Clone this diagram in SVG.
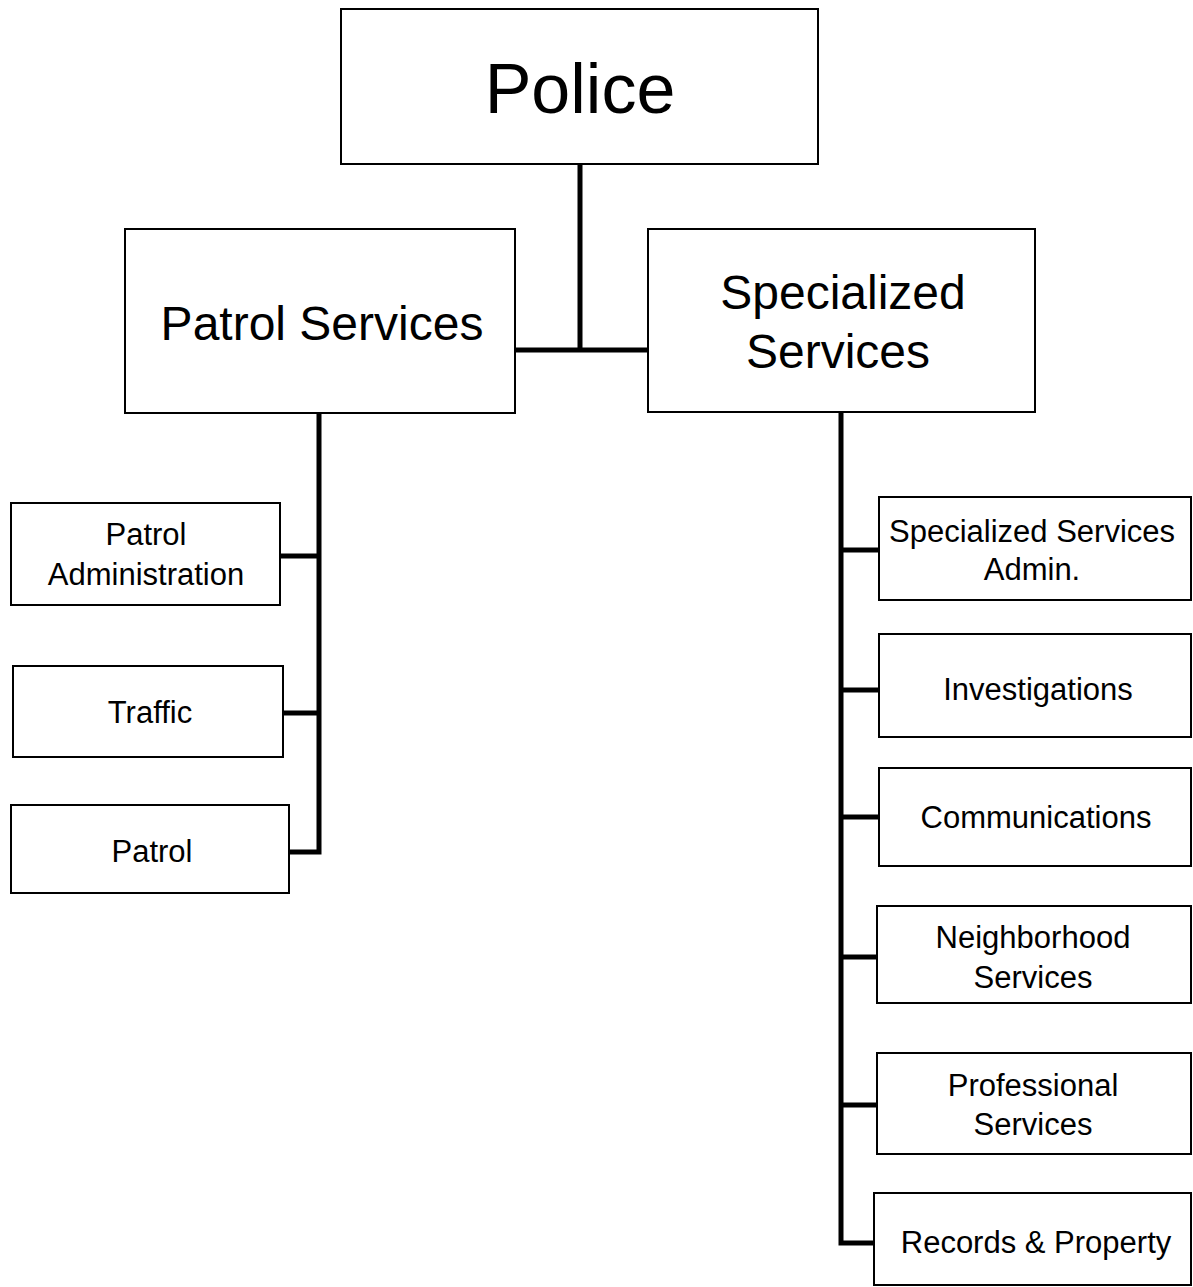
<svg xmlns="http://www.w3.org/2000/svg" width="1193" height="1287" viewBox="0 0 1193 1287">
<style>
.box{fill:#fff;stroke:#000;stroke-width:2}
.conn{fill:none;stroke:#000;stroke-width:5}
text{font-family:"Liberation Sans",Arial,sans-serif;fill:#000;text-anchor:middle}
.big{font-size:70px}
.mid{font-size:48px}
.sm{font-size:31px}
</style>
<rect width="1193" height="1287" fill="#fff"/>
<g id="connectors">
<path class="conn" d="M580,164 V350"/>
<path class="conn" d="M515,350 H648"/>
<path class="conn" d="M319,413 V852 H289"/>
<path class="conn" d="M280,556 H319"/>
<path class="conn" d="M283,713 H319"/>
<path class="conn" d="M841,412 V1243 H874"/>
<path class="conn" d="M841,550 H879"/>
<path class="conn" d="M841,690 H879"/>
<path class="conn" d="M841,817 H879"/>
<path class="conn" d="M841,957 H877"/>
<path class="conn" d="M841,1105 H877"/>
</g>
<g id="police"><rect class="box" x="341" y="9" width="477" height="155"/><text class="big" x="580" y="113">Police</text></g>
<g id="patrol-services"><rect class="box" x="125" y="229" width="390" height="184"/><text class="mid" x="322" y="340">Patrol Services</text></g>
<g id="specialized-services"><rect class="box" x="648" y="229" width="387" height="183"/><text class="mid" x="843" y="309">Specialized</text><text class="mid" x="838" y="368">Services</text></g>
<g id="patrol-administration"><rect class="box" x="11" y="503" width="269" height="102"/><text class="sm" x="146" y="545">Patrol</text><text class="sm" x="146" y="585">Administration</text></g>
<g id="traffic"><rect class="box" x="13" y="666" width="270" height="91"/><text class="sm" x="150" y="723">Traffic</text></g>
<g id="patrol"><rect class="box" x="11" y="805" width="278" height="88"/><text class="sm" x="152" y="862">Patrol</text></g>
<g id="spec-admin"><rect class="box" x="879" y="497" width="312" height="103"/><text class="sm" x="1032" y="542">Specialized Services</text><text class="sm" x="1032" y="580">Admin.</text></g>
<g id="investigations"><rect class="box" x="879" y="634" width="312" height="103"/><text class="sm" x="1038" y="700">Investigations</text></g>
<g id="communications"><rect class="box" x="879" y="768" width="312" height="98"/><text class="sm" x="1036" y="828">Communications</text></g>
<g id="neighborhood"><rect class="box" x="877" y="906" width="314" height="97"/><text class="sm" x="1033" y="948">Neighborhood</text><text class="sm" x="1033" y="988">Services</text></g>
<g id="professional"><rect class="box" x="877" y="1053" width="314" height="101"/><text class="sm" x="1033" y="1096">Professional</text><text class="sm" x="1033" y="1135">Services</text></g>
<g id="records"><rect class="box" x="874" y="1193" width="317" height="92"/><text class="sm" x="1036" y="1253">Records &amp; Property</text></g>
</svg>
